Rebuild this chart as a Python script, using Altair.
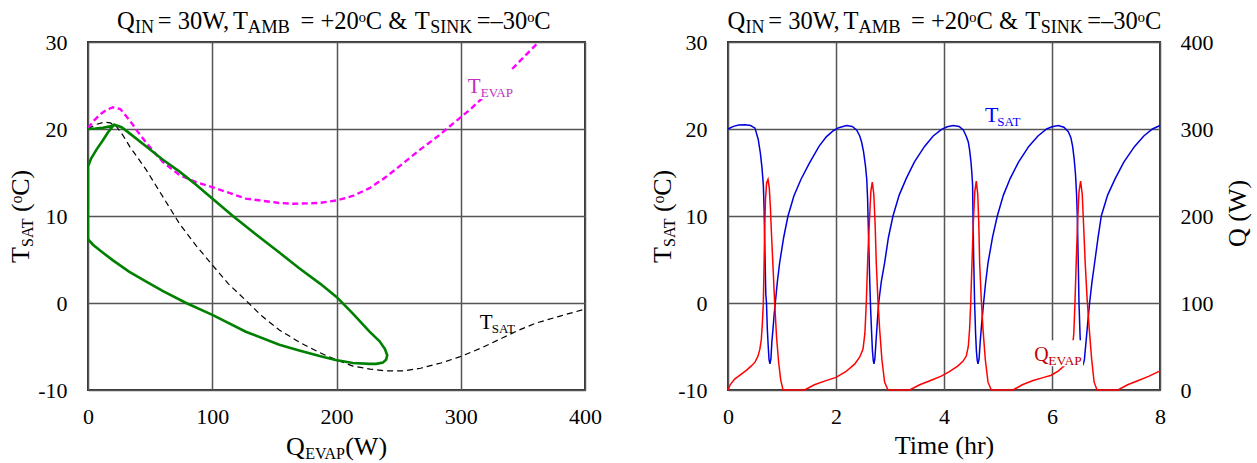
import altair as alt
import pandas as pd

# ---------------- data: right panel (time series) ----------------
tsat_time = [0.00, 0.10, 0.20, 0.315, 0.42, 0.50, 0.56, 0.60, 0.63, 0.655, 0.67, 0.68, 0.69, 0.70,
             0.713, 0.728, 0.745, 0.76, 0.777, 0.795, 0.812, 0.833, 0.855, 0.876, 0.915, 0.956,
             1.03, 1.111, 1.22, 1.35, 1.50, 1.685, 1.82, 1.95, 2.05, 2.196,
             2.30, 2.381, 2.44, 2.474, 2.51, 2.545, 2.57, 2.585, 2.595, 2.61, 2.625, 2.64, 2.66,
             2.675, 2.69, 2.703, 2.72, 2.74, 2.765, 2.79, 2.84, 2.90, 2.97, 3.055, 3.17, 3.30,
             3.45, 3.64, 3.80, 3.956, 4.06, 4.172,
             4.28, 4.357, 4.41, 4.45, 4.474, 4.50, 4.515, 4.53, 4.537, 4.55, 4.567, 4.585, 4.60,
             4.615, 4.63, 4.65, 4.67, 4.70, 4.733, 4.77, 4.815, 4.90, 4.987, 5.10, 5.225, 5.38,
             5.57, 5.74, 5.90, 6.00, 6.117,
             6.22, 6.302, 6.35, 6.382, 6.41, 6.435, 6.455, 6.469, 6.485, 6.50, 6.52, 6.54, 6.56,
             6.58, 6.60, 6.625, 6.66, 6.696, 6.74, 6.789, 6.85, 6.913, 7.03, 7.17, 7.33, 7.53,
             7.70, 7.86, 8.00]
tsat_value = [20.0, 20.3, 20.45, 20.5, 20.4, 20.1, 18.8, 17.2, 15.5, 13.5, 10.5, 7.0, 4.0, 1.0,
              0.0, -3.0, -5.0, -6.5, -7.0, -6.4, -4.5, -3.0, -1.3, 0.0, 2.5, 4.6,
              7.5, 10.0, 12.3, 14.2, 16.0, 18.0, 19.1, 19.8, 20.15, 20.4,
              20.3, 19.9, 19.2, 18.5, 17.4, 15.8, 14.2, 12.0, 9.5, 6.0, 2.5, -0.5, -3.5,
              -5.5, -6.6, -7.0, -6.4, -4.5, -2.2, 0.0, 2.5, 4.6, 7.5, 10.0, 12.4, 14.3,
              16.2, 18.0, 19.2, 19.95, 20.25, 20.4,
              20.3, 19.9, 19.2, 18.5, 17.6, 16.2, 15.0, 13.5, 10.0, 5.0, 0.0, -3.5, -5.5,
              -6.6, -7.0, -6.4, -4.5, -2.2, 0.0, 2.3, 4.6, 7.6, 10.0, 12.4, 14.3, 16.2,
              18.0, 19.2, 20.0, 20.25, 20.4,
              20.2, 19.7, 19.0, 18.0, 16.6, 14.8, 12.5, 10.0, 5.0, 0.0, -3.8, -5.8, -6.8,
              -7.0, -6.5, -4.8, -2.4, 0.0, 2.4, 4.6, 7.4, 10.0, 12.4, 14.3, 16.2, 18.0,
              19.2, 20.0, 20.4]

qevap_time = [0.00, 0.04, 0.123, 0.247, 0.34, 0.432, 0.50, 0.556, 0.59, 0.617, 0.635, 0.654, 0.667,
              0.679, 0.695, 0.715, 0.741, 0.765, 0.785, 0.802, 0.835, 0.864, 0.90, 0.938, 0.975,
              1.019, 1.419, 1.60, 1.80, 2.00, 2.18, 2.345, 2.44, 2.50, 2.535, 2.561, 2.59, 2.623,
              2.645, 2.672, 2.70, 2.725, 2.746, 2.775, 2.808, 2.85, 2.90, 2.963, 3.363, 3.55, 3.75,
              3.95, 4.10, 4.259, 4.35, 4.413, 4.45, 4.474, 4.495, 4.518, 4.545, 4.57, 4.598, 4.625,
              4.645, 4.66, 4.69, 4.722, 4.765, 4.815, 4.876, 5.278, 5.45, 5.65, 5.85, 5.987, 6.12,
              6.25, 6.343, 6.38, 6.404, 6.425, 6.448, 6.475, 6.50, 6.53, 6.56, 6.585, 6.615, 6.65,
              6.69, 6.735, 6.78, 6.835, 7.222, 7.40, 7.60, 7.80, 8.00]
qevap_value = [0, 6, 12.6, 18.2, 22.5, 27.7, 32, 39, 47, 58, 75, 100, 140,
               184, 220, 238, 242, 232, 210, 184, 140, 100, 60, 31.6, 12,
               0, 0, 6, 10.5, 14.5, 21, 29.7, 38, 47, 65, 100, 155, 200,
               228, 239, 225, 190, 146, 105, 70, 35, 9, 0, 0, 6, 11,
               16, 21, 27.7, 33, 39, 50, 70, 100, 146, 195, 228, 240, 225,
               190, 146, 105, 70, 35, 9, 0, 0, 6, 11, 14.5, 17, 22,
               29, 39, 50, 65, 100, 146, 195, 228, 240, 225, 190, 146, 105,
               70, 35, 9, 0, 0, 6, 11, 16, 22]

# ---------------- data: left panel (T vs Q_EVAP) ----------------
loop_q = [0, 6, 12, 18,
          21, 27, 33.5, 46.9, 60, 73.7, 87, 100, 116.6, 135, 154, 170, 187, 200, 213, 226.6,
          234.7, 239, 240.8, 240, 237.3, 232, 226.6, 213.2, 199.3, 186.4, 170, 154, 127, 100.5,
          79, 60, 46.9, 33, 20.1, 10, 4, 0.5, 0, 0, 0, 0, 2.5, 6.7, 12, 16, 21]
loop_t = [20.0, 20.05, 20.15, 20.3,
          20.5, 20.2, 19.5, 18.0, 16.5, 15.1, 13.6, 12.0, 10.0, 7.9, 5.8, 4.0, 2.2, 0.7, -1.2, -3.3,
          -4.4, -5.3, -6.0, -6.5, -6.85, -7.0, -7.0, -6.9, -6.55, -6.1, -5.45, -4.8, -3.3, -1.4,
          0.0, 1.4, 2.45, 3.6, 4.9, 6.0, 6.7, 7.25, 7.4, 10.0, 13.0, 15.7, 16.6, 17.6, 18.7, 19.6, 20.5]

ss_q = [0, 6, 13.4, 18, 22.8, 28, 33.5, 46.9, 60.3, 73.7, 87, 100.5, 113, 127, 140, 154, 170,
        186.4, 199.3, 213.2, 227, 240, 254, 267.6, 284, 299, 316, 333.8, 347, 360.7, 380, 400]
ss_t = [20.0, 20.5, 20.8, 20.7, 20.3, 19.3, 18.0, 15.3, 12.2, 9.1, 6.6, 4.3, 2.2, 0.3, -1.5, -3.1, -4.5,
        -5.7, -6.5, -7.25, -7.6, -7.8, -7.8, -7.5, -6.9, -6.2, -5.2, -4.0, -3.1, -2.3, -1.5, -0.7]

tevap_q = [0, 5, 10, 15, 20.1, 26, 33.5, 40, 46.9, 60.3, 73.7, 87, 100.5, 127, 154, 165, 186.4,
           200.5, 213, 226.6, 240, 254, 267, 281, 297, 308, 318.5, 329, 340, 351, 362.7]
tevap_t = [20.1, 21.0, 21.7, 22.2, 22.5, 22.3, 21.0, 19.7, 18.4, 16.2, 14.7, 13.9, 13.3, 12.0, 11.5,
           11.4, 11.5, 11.8, 12.3, 13.2, 14.5, 16.1, 17.6, 19.1, 21.0, 22.3, 23.7, 25.1, 26.7, 28.3, 30.0]

# tick values
left_x_ticks = [0, 100, 200, 300, 400]
t_ticks = [-10, 0, 10, 20, 30]
time_ticks = [0, 2, 4, 6, 8]
q_ticks = [0, 100, 200, 300, 400]

# ---------------- styling ----------------
FONT = "Liberation Serif"
GREEN = "#008000"
MAGENTA = "#ff00ff"
BLUE = "#0000dd"
RED = "#ff0000"

LW, LH = 497, 348      # left plot area
RW, RH = 432, 348      # right plot area
L_ORIG = (88.3, 42.0)
R_ORIG = (726.7, 42.0)

ONE = pd.DataFrame({"k": [0]})


def seg(text, x, y, size, origin, color="black", angle=0):
    """A piece of (possibly subscripted) label text, placed in the panel's pixel frame."""
    return alt.Chart(ONE).mark_text(
        text=text, font=FONT, fontSize=size, color=color, align="left",
        baseline="alphabetic", angle=angle
    ).encode(x=alt.value(x - origin[0]), y=alt.value(y - origin[1]))


def title_segs(x0, origin):
    parts = [("Q", 0.0, 29, 24.5), ("IN", 18.0, 33, 18), ("= 30W,", 40.7, 29, 24.5),
             ("T", 116.0, 29, 24.5), ("AMB", 130.8, 33, 18.5), ("= +20ᵒC &", 183.5, 29, 24.5),
             ("T", 297.7, 29, 24.5), ("SINK", 313.2, 33, 18), ("=–30ᵒC", 359.7, 29, 24.5)]
    return [seg(t, x0 + dx, y, s, origin) for t, dx, y, s in parts]


def ytitle_segs(xb, origin):
    return [seg("T", xb, 263, 26, origin, angle=270),
            seg("SAT", xb + 4, 247, 16, origin, angle=270),
            seg("(ᵒC)", xb, 212, 26, origin, angle=270)]


label_t_axis = alt.Axis(values=t_ticks, title=None, labelPadding=21, labelExpr="'' + datum.value",
                        labelFlush=False)

# ---------------- left panel ----------------
df_loop = pd.DataFrame({"q": loop_q, "T": loop_t, "i": range(len(loop_q))})
df_ss = pd.DataFrame({"q": ss_q, "T": ss_t})
df_ev = pd.DataFrame({"q": tevap_q, "T": tevap_t})

xq = dict(scale=alt.Scale(domain=[0, 400], nice=False),
          axis=alt.Axis(values=left_x_ticks, title=None, labelPadding=16, labelFlush=False))
yt = dict(scale=alt.Scale(domain=[-10, 30], nice=False), axis=label_t_axis)

ss_line = alt.Chart(df_ss).mark_line(color="black", strokeWidth=1.2, strokeDash=[6, 4], clip=True).encode(
    x=alt.X("q:Q", **xq), y=alt.Y("T:Q", **yt), order="q:Q")
ev_line = alt.Chart(df_ev).mark_line(color=MAGENTA, strokeWidth=2.4, strokeDash=[6, 3.5], clip=True).encode(
    x=alt.X("q:Q", **xq), y=alt.Y("T:Q", **yt), order="q:Q")
loop_line = alt.Chart(df_loop).mark_line(color=GREEN, strokeWidth=2.6, clip=True).encode(
    x=alt.X("q:Q", **xq), y=alt.Y("T:Q", **yt), order="i:Q")

box_l = alt.Chart(pd.DataFrame({"a": [304], "b": [342.5], "c": [23.45], "d": [26.8]})).mark_rect(
    color="white").encode(x=alt.X("a:Q", **xq), x2="b", y=alt.Y("c:Q", **yt), y2="d")

left_layers = [ss_line, ev_line, loop_line, box_l]
left_layers += title_segs(117.3, L_ORIG)
left_layers += ytitle_segs(29, L_ORIG)
left_layers += [seg("Q", 286.3, 455, 26, L_ORIG), seg("EVAP", 305.5, 459, 16, L_ORIG),
                seg("(W)", 345.5, 455, 26, L_ORIG)]
left_layers += [seg("T", 468, 93, 21, L_ORIG, color="#c030c0"),
                seg("EVAP", 481, 97, 13, L_ORIG, color="#c030c0"),
                seg("T", 480, 329, 21, L_ORIG), seg("SAT", 492, 333, 13, L_ORIG)]

left = alt.layer(*left_layers).properties(width=LW, height=LH)

# ---------------- right panel ----------------
df_ts = pd.DataFrame({"t": tsat_time, "T": tsat_value})
df_qe = pd.DataFrame({"t": qevap_time, "Q": qevap_value})

xt = dict(scale=alt.Scale(domain=[0, 8], nice=False),
          axis=alt.Axis(values=time_ticks, title="Time (hr)", labelPadding=16, titlePadding=5,
                        labelFlush=False))

blue = alt.Chart(df_ts).mark_line(color=BLUE, strokeWidth=1.5).encode(
    x=alt.X("t:Q", **xt), y=alt.Y("T:Q", **yt), order="t:Q")
red = alt.Chart(df_qe).mark_line(color=RED, strokeWidth=1.5).encode(
    x=alt.X("t:Q", **xt),
    y=alt.Y("Q:Q", scale=alt.Scale(domain=[0, 400], nice=False),
            axis=alt.Axis(orient="right", values=q_ticks, title=None, grid=False,
                          labelPadding=20, labelFlush=False)),
    order="t:Q")
box_r = alt.Chart(pd.DataFrame({"a": [5.61], "b": [6.576], "c": [-7.28], "d": [-4.27]})).mark_rect(
    color="white").encode(x=alt.X("a:Q", **xt), x2="b",
                          y=alt.Y("c:Q", scale=alt.Scale(domain=[-10, 30], nice=False), axis=None), y2="d")

right_layers = [blue, red, box_r]
right_layers += title_segs(726.3, R_ORIG)
right_layers += ytitle_segs(670, R_ORIG)
right_layers += [seg("Q (W)", 1245, 247, 26, R_ORIG, angle=270)]
right_layers += [seg("T", 983.6, 122, 22, R_ORIG, color="#0000ff"),
                 seg("SAT", 996, 126, 13, R_ORIG, color="#0000ff"),
                 seg("Q", 1033, 361, 20, R_ORIG, color="#c00000"),
                 seg("EVAP", 1047, 365, 13.5, R_ORIG, color="#c00000")]

right = alt.layer(*right_layers).resolve_scale(y="independent").properties(width=RW, height=RH)

chart = alt.hconcat(left, right, spacing=46).properties(
    padding={"left": 6, "top": 8, "right": 0, "bottom": 0}
).configure_view(stroke="#333", strokeWidth=2).configure_axis(
    labelFont=FONT, labelFontSize=22, labelColor="black", ticks=False, tickSize=0, domain=False,
    gridColor="#555", gridWidth=1.5, gridOpacity=1,
    titleFont=FONT, titleFontSize=26, titleFontWeight="normal", titleColor="black"
)

chart.save("out.html", embed_options={"renderer": "svg", "actions": False})
